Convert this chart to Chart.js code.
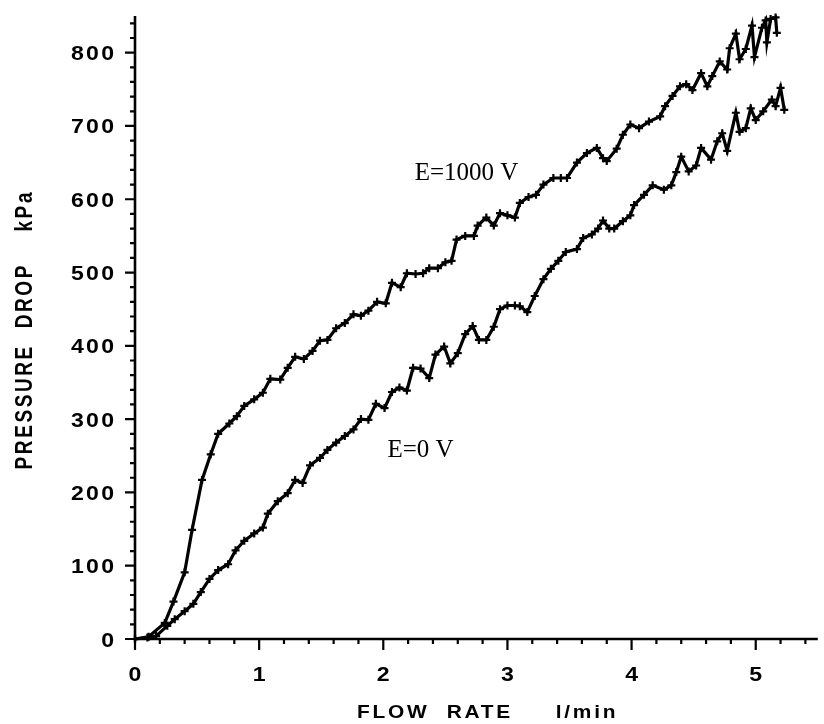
<!DOCTYPE html>
<html><head><meta charset="utf-8">
<script src="https://cdn.jsdelivr.net/npm/chart.js@4/dist/chart.umd.min.js"></script>
<style>html,body{margin:0;padding:0;background:#fff}#wrap{width:824px;height:724px}</style>
</head><body><div id="wrap"><canvas id="c" width="824" height="724"></canvas></div>
<script>
// ---- data ----
const flowE1000 = [0.00,0.11,0.24,0.31,0.40,0.46,0.54,0.61,0.67,0.76,0.82,0.88,0.96,1.03,1.09,1.17,1.23,1.29,1.36,1.43,1.49,1.55,1.62,1.69,1.76,1.82,1.88,1.95,2.02,2.07,2.14,2.19,2.26,2.32,2.37,2.44,2.50,2.55,2.59,2.66,2.73,2.76,2.83,2.89,2.94,3.00,3.06,3.10,3.17,3.23,3.29,3.37,3.43,3.48,3.56,3.64,3.72,3.77,3.80,3.88,3.93,3.99,4.06,4.14,4.23,4.27,4.33,4.39,4.44,4.49,4.56,4.61,4.65,4.71,4.77,4.79,4.84,4.87,4.92,4.97,4.99,5.05,5.08,5.09,5.12,5.16,5.17];
const dropE1000 = [0,3,22,51,91,149,217,252,280,294,304,318,327,336,355,354,370,385,382,393,407,408,424,431,443,441,448,460,458,486,480,499,498,499,506,506,514,516,545,550,550,564,575,564,581,578,575,595,603,606,620,629,629,629,650,663,670,656,652,669,688,702,697,706,713,727,741,754,757,749,772,754,768,788,777,806,826,791,805,837,794,834,844,814,846,848,827];
const flowE0 = [0.00,0.10,0.17,0.26,0.32,0.40,0.47,0.53,0.60,0.67,0.75,0.81,0.88,0.96,1.03,1.07,1.15,1.23,1.29,1.35,1.41,1.49,1.55,1.62,1.69,1.76,1.82,1.88,1.94,2.01,2.07,2.13,2.19,2.24,2.30,2.37,2.42,2.49,2.54,2.60,2.66,2.72,2.77,2.83,2.89,2.94,3.00,3.06,3.10,3.16,3.22,3.29,3.35,3.41,3.47,3.56,3.61,3.68,3.73,3.77,3.82,3.86,3.93,3.99,4.02,4.10,4.17,4.26,4.32,4.36,4.40,4.46,4.52,4.56,4.64,4.69,4.73,4.77,4.84,4.87,4.92,4.96,5.00,5.06,5.13,5.16,5.20,5.23];
const dropE0 = [0,2,4,18,27,38,48,64,82,94,102,121,134,144,152,171,188,199,217,213,237,247,258,268,277,286,300,299,321,315,337,343,339,370,369,356,388,399,376,390,416,427,408,408,426,450,455,455,454,446,468,491,505,516,528,532,547,552,560,571,560,560,570,578,592,606,619,613,619,637,658,638,646,670,654,679,690,666,718,692,697,724,708,720,736,727,752,722];
const xTickLabels = ['0','1','2','3','4','5'];
const yTickLabels = ['0','100','200','300','400','500','600','700','800'];
const xTitle = 'FLOW  RATE     l/min';
const yTitle = 'PRESSURE  DROP    kPa';
const curveLabels = ['E=1000 V', 'E=0 V'];

// ---- drawing ----
function pts(xs, ys){ return xs.map((x,i)=>({x:x, y:ys[i]})); }

function drawText(ctx, text, x, y, o){
  ctx.save();
  ctx.font = o.font;
  ctx.fillStyle = '#000';
  try { ctx.letterSpacing = (o.ls||0) + 'px'; } catch(e) {}
  ctx.textAlign = 'left';
  ctx.textBaseline = 'alphabetic';
  const w = ctx.measureText(text).width - (o.ls||0);
  const sx = o.sx || 1;
  let sx0 = x;
  if (o.align === 'center') sx0 = x - w*sx/2;
  else if (o.align === 'right') sx0 = x - w*sx;
  ctx.translate(sx0, y);
  ctx.scale(sx, 1);
  ctx.fillText(text, 0, 0);
  ctx.restore();
}

const axesPlugin = {
  id: 'axesPlugin',
  afterDraw(chart){
    const ctx = chart.ctx, xs = chart.scales.x, ys = chart.scales.y;
    const x0 = xs.getPixelForValue(0), y0 = ys.getPixelForValue(0);
    ctx.save();
    ctx.strokeStyle = '#000';
    ctx.lineCap = 'butt';
    // axis lines
    ctx.lineWidth = 2.6;
    ctx.beginPath();
    ctx.moveTo(x0, ys.top); ctx.lineTo(x0, y0 + 1.3);
    ctx.moveTo(x0 - 1.3, y0); ctx.lineTo(xs.right, y0);
    ctx.stroke();
    // x ticks (0.2 steps)
    ctx.lineWidth = 2.2;
    ctx.beginPath();
    for (let i = 0; i * 0.2 <= xs.max + 1e-9; i++) {
      const px = xs.getPixelForValue(i * 0.2);
      const len = (i % 5 === 0) ? 11 : 5;
      ctx.moveTo(px, y0); ctx.lineTo(px, y0 + len);
    }
    // y ticks (20 steps)
    for (let i = 0; i * 20 <= ys.max + 1e-9; i++) {
      const py = ys.getPixelForValue(i * 20);
      const len = (i % 5 === 0) ? 10 : 5;
      ctx.moveTo(x0, py); ctx.lineTo(x0 - len, py);
    }
    ctx.stroke();
    ctx.restore();

    const tickFont = 'bold 21px "Liberation Sans", Arial, sans-serif';
    xTickLabels.forEach(t => {
      drawText(ctx, t, xs.getPixelForValue(parseFloat(t)), 681, {font: tickFont, ls: 2, sx: 1.1, align: 'center'});
    });
    yTickLabels.forEach(t => {
      drawText(ctx, t, 114, ys.getPixelForValue(parseFloat(t)) + 7.5, {font: tickFont, ls: 2, sx: 1.1, align: 'right'});
    });
    // axis titles
    const titleFont = 'bold 19px "Liberation Sans", Arial, sans-serif';
    drawText(ctx, xTitle, 357, 718, {font: titleFont, ls: 2.5, sx: 1.1, align: 'left'});
    ctx.save();
    ctx.translate(32, 331);
    ctx.rotate(-Math.PI/2);
    ctx.scale(1, 1.3);
    drawText(ctx, yTitle, 0, 0, {font: titleFont, ls: 2.6, sx: 1, align: 'center'});
    ctx.restore();
    // curve labels (anchored in data coordinates)
    const serif = '25px "Liberation Serif", "Times New Roman", serif';
    drawText(ctx, curveLabels[0], xs.getPixelForValue(2.67), ys.getPixelForValue(626), {font: serif, ls: 0, sx: 1, align: 'center'});
    drawText(ctx, curveLabels[1], xs.getPixelForValue(2.30), ys.getPixelForValue(248), {font: serif, ls: 0, sx: 1, align: 'center'});
  }
};

const lineStyle = {
  showLine: true,
  borderColor: '#000',
  backgroundColor: '#000',
  borderWidth: 3.2,
  pointStyle: 'cross',
  pointRadius: 4,
  pointBorderWidth: 2.2,
  pointBorderColor: '#000',
  tension: 0,
  clip: false
};

new Chart(document.getElementById('c'), {
  type: 'scatter',
  data: {
    datasets: [
      Object.assign({label: curveLabels[0], data: pts(flowE1000, dropE1000)}, lineStyle),
      Object.assign({label: curveLabels[1], data: pts(flowE0, dropE0)}, lineStyle)
    ]
  },
  options: {
    responsive: false,
    animation: false,
    devicePixelRatio: 1,
    layout: {padding: {top: 16, right: 1.5, bottom: 0, left: 0}},
    plugins: {legend: {display: false}, tooltip: {enabled: false}},
    scales: {
      x: {type: 'linear', min: 0, max: 5.5,
          grid: {display: false}, border: {display: false}, ticks: {display: false},
          afterFit(s){ s.height = 85; }},
      y: {type: 'linear', min: 0, max: 850,
          grid: {display: false}, border: {display: false}, ticks: {display: false},
          afterFit(s){ s.width = 135; }}
    }
  },
  plugins: [axesPlugin]
});
</script>
</body></html>
